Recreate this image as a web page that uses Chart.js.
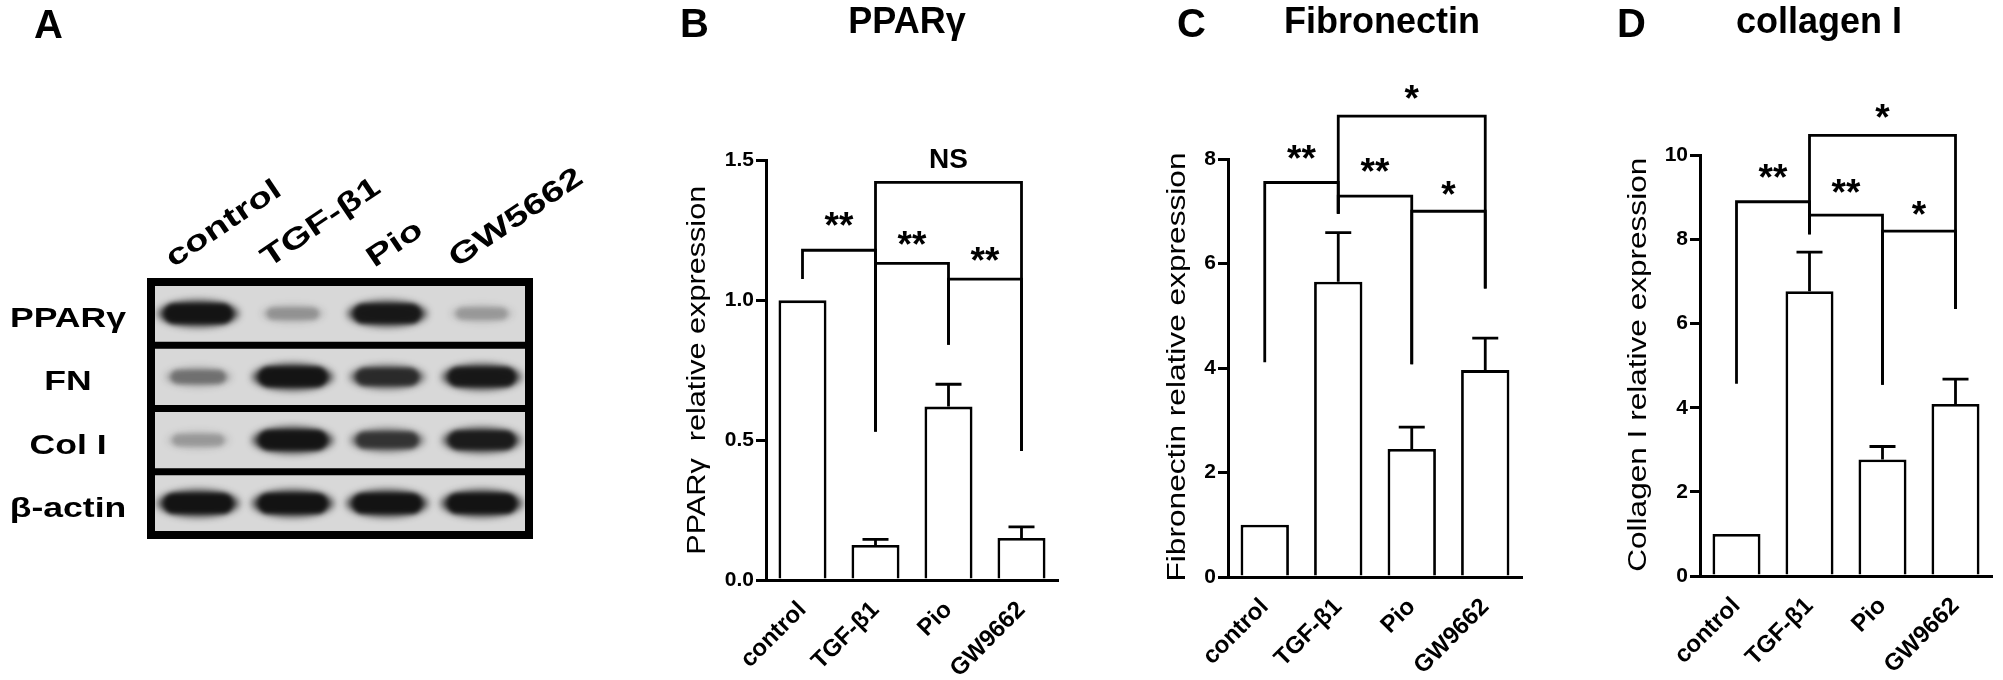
<!DOCTYPE html>
<html>
<head>
<meta charset="utf-8">
<script src="https://cdn.jsdelivr.net/npm/chart.js@4.4.1/dist/chart.umd.min.js"></script>
<style>
html,body{margin:0;padding:0;background:#fff;width:2003px;height:680px;overflow:hidden}
canvas{position:absolute;left:0;top:0;pointer-events:none}
</style>
</head>
<body>
<canvas id="cA" width="2003" height="680"></canvas>
<canvas id="cB" width="2003" height="680"></canvas>
<canvas id="cC" width="2003" height="680"></canvas>
<canvas id="cD" width="2003" height="680"></canvas>
<script>
// ---------------- data ----------------
const groups = ['control', 'TGF-β1', 'Pio', 'GW9662'];

// panel A (western blot): band darkness 0..1 per lane
const blotLanes = ['control', 'TGF-β1', 'Pio', 'GW5662'];
const blotRows = ['PPARγ', 'FN', 'Col I', 'β-actin'];
const bandPPARg = [0.95, 0.22, 0.90, 0.20];
const bandFN = [0.35, 0.95, 0.72, 0.90];
const bandColI = [0.20, 0.95, 0.66, 0.86];
const bandActin = [0.97, 0.97, 0.97, 0.97];

// panel B
const ppargValues = [1.00, 0.125, 0.62, 0.15];
const ppargErr = [0, 0.02, 0.08, 0.04];
const ppargTicks = ['0.0', '0.5', '1.0', '1.5'];
// [fromGroup, toGroup, bracketLevel, leftLegEnd, rightLegEnd]
const ppargBrackets = [[0, 1, 1.179, 1.076, 0.531], [1, 3, 1.422, 0.531, 0.461], [1, 2, 1.132, 0.531, 0.841], [2, 3, 1.076, 0.841, 0.461]];
// [text, fromGroup, toGroup, level]
const ppargMarks = [['**', 0, 1, 1.29], ['**', 1, 2, 1.224], ['**', 2, 3, 1.166], ['NS', 1, 3, 1.507]];

// panel C
const fnValues = [1.00, 5.65, 2.45, 3.96];
const fnErr = [0, 0.94, 0.42, 0.61];
const fnTicks = ['0', '2', '4', '6', '8'];
const fnBrackets = [[0, 1, 7.55, 4.11, 6.95], [1, 3, 8.82, 6.95, 5.52], [1, 2, 7.29, 6.95, 4.07], [2, 3, 7.00, 4.07, 5.52]];
const fnMarks = [['**', 0, 1, 8.14], ['**', 1, 2, 7.89], ['*', 2, 3, 7.45], ['*', 1, 3, 9.29]];

// panel D
const colValues = [1.00, 6.77, 2.77, 4.09];
const colErr = [0, 0.93, 0.31, 0.59];
const colTicks = ['0', '2', '4', '6', '8', '10'];
const colBrackets = [[0, 1, 8.90, 4.57, 8.13], [1, 3, 10.48, 8.13, 6.35], [1, 2, 8.58, 8.13, 4.55], [2, 3, 8.20, 4.55, 6.35]];
const colMarks = [['**', 0, 1, 9.62], ['**', 1, 2, 9.28], ['*', 2, 3, 8.75], ['*', 1, 3, 11.07]];

// ---------------- helpers ----------------
const FONT = '"Liberation Sans", Arial, Helvetica, sans-serif';
const W = 2003, H = 680;

function drawText(ctx, txt, x, y, o) {
  ctx.save();
  ctx.font = o.font;
  ctx.translate(x, y);
  if (o.rot) ctx.rotate(o.rot);
  let sx = o.sx || 1;
  if (o.len) sx = o.len / ctx.measureText(txt).width;
  ctx.scale(sx, 1);
  ctx.textAlign = o.align || 'left';
  ctx.textBaseline = 'alphabetic';
  ctx.fillStyle = '#000';
  ctx.fillText(txt, 0, 0);
  ctx.restore();
}

// ---------------- panel A ----------------
const bandSets = [bandPPARg, bandFN, bandColI, bandActin];
const blotBox = {left: 151, right: 529, top: 282, bottom: 535};
const laneLabelShift = [-25, -24, -13, -25];

function drawBand(ctx, cx, cy, w, h, a) {
  ctx.save();
  ctx.filter = 'blur(3.5px)';
  ctx.fillStyle = 'rgba(25,25,25,' + (a * 0.8) + ')';
  ctx.beginPath();
  ctx.ellipse(cx, cy, w / 2, h / 2, 0, 0, Math.PI * 2);
  ctx.fill();
  ctx.filter = 'blur(2px)';
  ctx.fillStyle = 'rgba(18,18,18,' + a + ')';
  ctx.beginPath();
  ctx.roundRect(cx - w * 0.42, cy - h * 0.36, w * 0.84, h * 0.72, h * 0.36);
  ctx.fill();
  ctx.restore();
}

const blotPlugin = {
  id: 'blot',
  afterDatasetsDraw(chart) {
    const ctx = chart.ctx;
    const xs = chart.scales.x, ys = chart.scales.y;
    const laneW = (blotBox.right - blotBox.left) / blotLanes.length;
    const rowPix = blotRows.map((r) => ys.getPixelForValue(blotRows.indexOf(r)));
    // membrane background
    ctx.save();
    ctx.fillStyle = '#d8d8d8';
    ctx.fillRect(blotBox.left, blotBox.top, blotBox.right - blotBox.left, blotBox.bottom - blotBox.top);
    ctx.beginPath();
    ctx.rect(blotBox.left, blotBox.top, blotBox.right - blotBox.left, blotBox.bottom - blotBox.top);
    ctx.clip();
    bandSets.forEach((set, ri) => {
      const meta = chart.getDatasetMeta(ri);
      meta.data.forEach((pt, li) => {
        const a = set[li];
        const w = laneW * (0.6 + 0.28 * a);
        const h = 15 + 13 * a;
        drawBand(ctx, pt.x, pt.y, w, h, a);
      });
    });
    ctx.restore();
    // frame and separators
    ctx.save();
    ctx.strokeStyle = '#000';
    ctx.lineWidth = 8;
    ctx.strokeRect(blotBox.left, blotBox.top, blotBox.right - blotBox.left, blotBox.bottom - blotBox.top);
    ctx.lineWidth = 7;
    for (let i = 0; i < rowPix.length - 1; i++) {
      const yy = (rowPix[i] + rowPix[i + 1]) / 2;
      ctx.beginPath();
      ctx.moveTo(blotBox.left, yy);
      ctx.lineTo(blotBox.right, yy);
      ctx.stroke();
    }
    ctx.restore();
    // row labels
    blotRows.forEach((r, ri) => {
      drawText(ctx, r, 68, rowPix[ri] + 13.5, {font: 'bold 28px ' + FONT, sx: 1.27, align: 'center'});
    });
    // lane labels
    blotLanes.forEach((l, li) => {
      const px = xs.getPixelForValue(li);
      drawText(ctx, l, px + laneLabelShift[li], 268, {font: 'bold 29px ' + FONT, sx: 1.35, rot: -34 * Math.PI / 180});
    });
    drawText(ctx, 'A', 34, 38, {font: 'bold 40px ' + FONT});
  }
};

new Chart(document.getElementById('cA'), {
  type: 'scatter',
  data: {
    datasets: blotRows.map((r) => ({
      label: r,
      data: blotLanes.map((l) => ({x: l, y: r})),
      pointRadius: 0
    }))
  },
  options: {
    responsive: false,
    animation: false,
    events: [],
    layout: {padding: {left: blotBox.left, right: W - blotBox.right, top: blotBox.top, bottom: H - blotBox.bottom}},
    plugins: {legend: {display: false}, tooltip: {enabled: false}},
    scales: {
      x: {type: 'category', labels: blotLanes, offset: true, display: false},
      y: {type: 'category', labels: blotRows, offset: true, display: false}
    }
  },
  plugins: [blotPlugin]
});

// ---------------- bar panels ----------------
function overlay(o) {
  return {
    id: 'overlay' + o.letter,
    afterDatasetsDraw(chart) {
      const ctx = chart.ctx;
      const xs = chart.scales.x, ys = chart.scales.y;
      const meta = chart.getDatasetMeta(0);
      ctx.save();
      ctx.strokeStyle = '#000';
      ctx.lineWidth = 2.8;
      ctx.lineCap = 'butt';
      ctx.lineJoin = 'miter';
      // error bars (upper only)
      o.values.forEach((v, i) => {
        if (!o.err[i]) return;
        const bx = meta.data[i].x;
        const y0 = ys.getPixelForValue(v);
        const y1 = ys.getPixelForValue(v + o.err[i]);
        ctx.beginPath();
        ctx.moveTo(bx, y0); ctx.lineTo(bx, y1);
        ctx.moveTo(bx - 13, y1); ctx.lineTo(bx + 13, y1);
        ctx.stroke();
      });
      // significance brackets
      o.brackets.forEach(([a, b, lvl, la, lb]) => {
        const xa = xs.getPixelForValue(a), xb = xs.getPixelForValue(b);
        const yl = ys.getPixelForValue(lvl);
        ctx.beginPath();
        ctx.moveTo(xa, ys.getPixelForValue(la));
        ctx.lineTo(xa, yl);
        ctx.lineTo(xb, yl);
        ctx.lineTo(xb, ys.getPixelForValue(lb));
        ctx.stroke();
      });
      ctx.restore();
      // marks
      o.marks.forEach(([t, a, b, lvl]) => {
        ctx.save();
        const size = t === 'NS' ? 28 : 37;
        ctx.font = 'bold ' + size + 'px ' + FONT;
        ctx.fillStyle = '#000';
        ctx.textAlign = 'center';
        ctx.textBaseline = 'alphabetic';
        const m = ctx.measureText(t);
        const cx = (xs.getPixelForValue(a) + xs.getPixelForValue(b)) / 2;
        const cy = ys.getPixelForValue(lvl);
        ctx.fillText(t, cx, cy + (m.actualBoundingBoxAscent - m.actualBoundingBoxDescent) / 2);
        ctx.restore();
      });
    },
    afterDraw(chart) {
      const ctx = chart.ctx;
      const a = chart.chartArea;
      const tsize = 25;
      drawText(ctx, o.yTitle, o.yTitleX + 0.253 * tsize, (a.top + a.bottom) / 2 + o.yTitleDy,
        {font: tsize + 'px ' + FONT, rot: -Math.PI / 2, align: 'center', len: o.yTitleLen});
      drawText(ctx, o.letter, o.letterX, 37, {font: 'bold 40px ' + FONT});
      drawText(ctx, o.title, o.titleX, 33, {font: 'bold 36px ' + FONT, align: 'center'});
    }
  };
}

function barPanel(id, o) {
  const YW = 80, XH = 100;
  const [L, R, T, B] = o.area;
  return new Chart(document.getElementById(id), {
    type: 'bar',
    data: {
      labels: groups,
      datasets: [{
        data: o.values,
        backgroundColor: '#ffffff',
        borderColor: '#000000',
        borderWidth: 2.8,
        barPercentage: 0.658,
        categoryPercentage: 1
      }]
    },
    options: {
      responsive: false,
      animation: false,
      events: [],
      layout: {padding: {left: L - YW, right: W - R, top: T, bottom: H - B - XH}},
      plugins: {legend: {display: false}, tooltip: {enabled: false}},
      scales: {
        x: {
          type: 'category',
          offset: true,
          grid: {display: false, drawTicks: false},
          border: {display: true, color: '#000', width: 3},
          ticks: {color: '#000', font: {family: FONT, size: 24, weight: 'bold'}, minRotation: 45, maxRotation: 45, autoSkip: false, padding: 16},
          afterFit: (s) => { s.height = XH; }
        },
        y: {
          min: 0,
          max: o.max,
          ticks: {stepSize: o.step, color: '#000', font: {family: FONT, size: 21, weight: 'bold'}, padding: 2,
            callback: (v, i) => o.ticks[i]},
          grid: {display: true, drawOnChartArea: false, drawTicks: true, tickLength: 10, color: '#000', lineWidth: 3},
          border: {display: true, color: '#000', width: 3},
          afterFit: (s) => { s.width = YW; }
        }
      }
    },
    plugins: [overlay(o)]
  });
}

barPanel('cB', {
  letter: 'B', letterX: 680, title: 'PPARγ', titleX: 907,
  yTitle: 'PPARγ  relative expression', yTitleX: 699, yTitleLen: 369, yTitleDy: 0,
  area: [766, 1058, 160.5, 580], max: 1.5, step: 0.5, ticks: ppargTicks,
  values: ppargValues, err: ppargErr, brackets: ppargBrackets, marks: ppargMarks
});
barPanel('cC', {
  letter: 'C', letterX: 1177, title: 'Fibronectin', titleX: 1382,
  yTitle: 'Fibronectin relative expression', yTitleX: 1179, yTitleLen: 429, yTitleDy: -1,
  area: [1228, 1522, 159, 577], max: 8, step: 2, ticks: fnTicks,
  values: fnValues, err: fnErr, brackets: fnBrackets, marks: fnMarks
});
barPanel('cD', {
  letter: 'D', letterX: 1617, title: 'collagen I', titleX: 1819,
  yTitle: 'Collagen I relative expression', yTitleX: 1640, yTitleLen: 414, yTitleDy: -1,
  area: [1700, 1992, 155.5, 576], max: 10, step: 2, ticks: colTicks,
  values: colValues, err: colErr, brackets: colBrackets, marks: colMarks
});
</script>
</body>
</html>
